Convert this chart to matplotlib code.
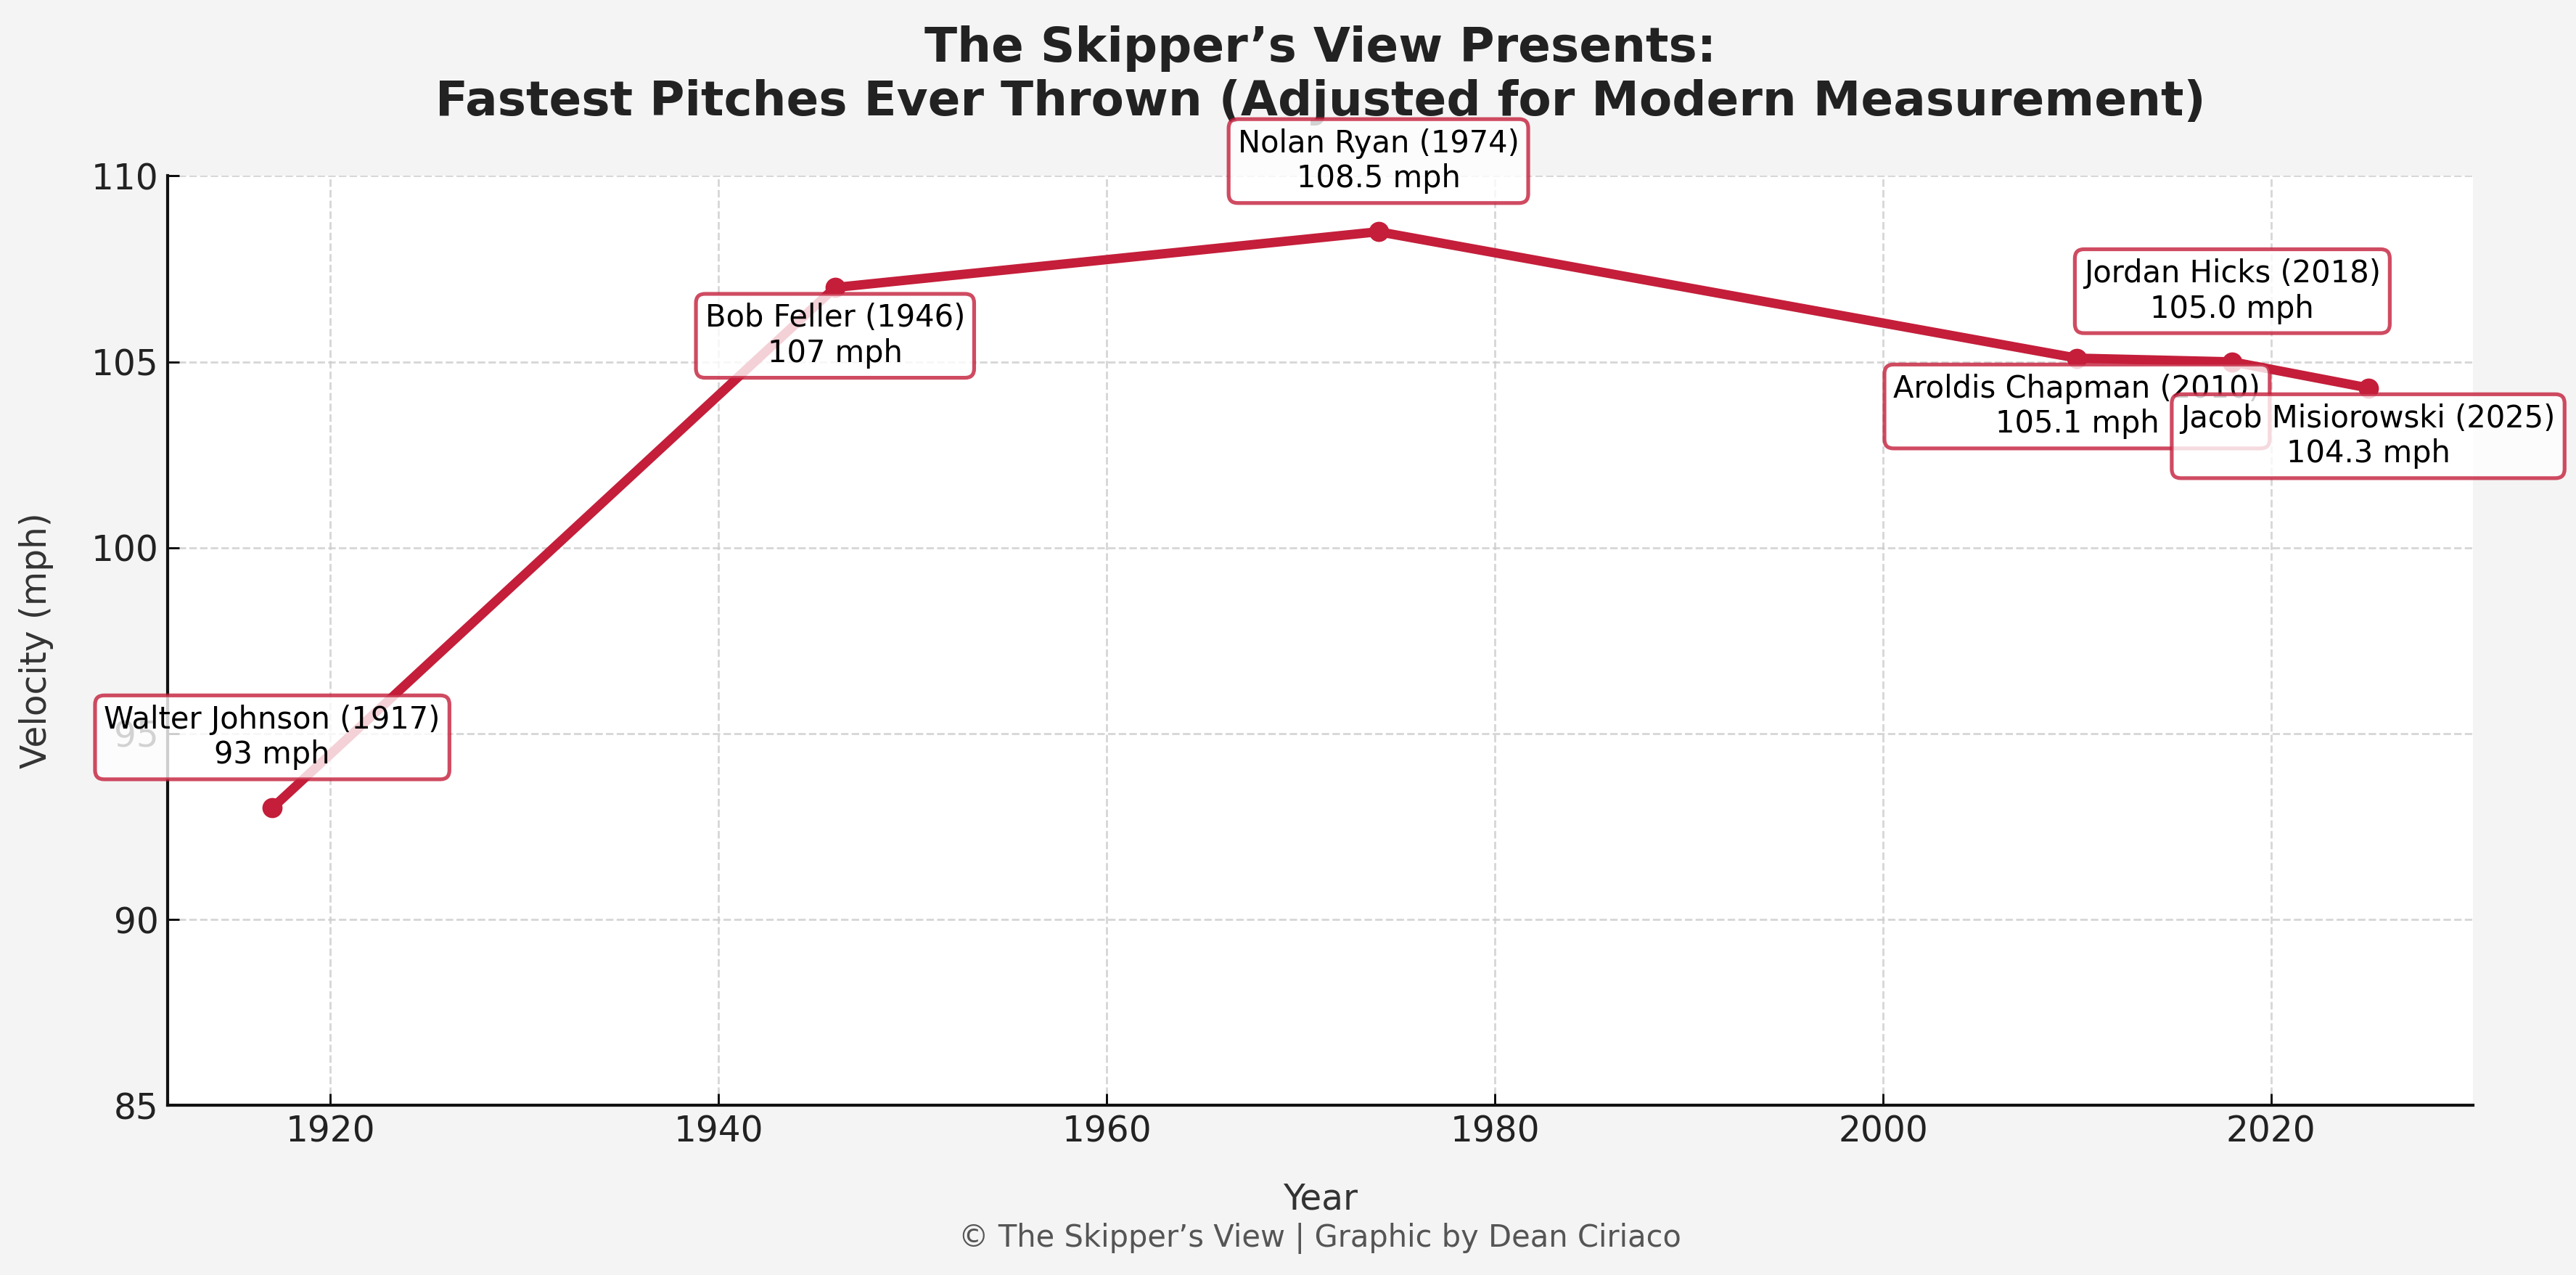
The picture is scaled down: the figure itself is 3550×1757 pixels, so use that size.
import numpy as np
import matplotlib.pyplot as plt

# pitch data
years = [1917, 1946, 1974, 2010, 2018, 2025]
speeds = [93, 107, 108.5, 105.1, 105.0, 104.3]
pitchers = ['Walter Johnson', 'Bob Feller', 'Nolan Ryan', 'Aroldis Chapman',
            'Jordan Hicks', 'Jacob Misiorowski']
speed_labels = ['93', '107', '108.5', '105.1', '105.0', '104.3']

# label placement (data units above/below each point)
label_shift = [1.9, -1.3, 1.9, -1.3, 1.9, -1.3]

red = '#C41E3A'

fig = plt.figure(figsize=(14.2, 7.028), dpi=250, facecolor='#f4f4f4')
ax = fig.add_axes([0.065, 0.133, 0.895, 0.729])
ax.set_facecolor('white')

ax.plot(years, speeds, color=red, lw=3.7, marker='o', markersize=7, zorder=3)

for i in range(len(years)):
    ax.text(years[i], speeds[i] + label_shift[i],
            '%s (%d)\n%s mph' % (pitchers[i], years[i], speed_labels[i]),
            ha='center', va='center', fontsize=12, color='black', zorder=5,
            bbox=dict(boxstyle='round,pad=0.3', facecolor='white', alpha=0.8,
                      edgecolor=red, linewidth=1.5))

ax.set_ylim(85, 110)
ax.set_yticks([85, 90, 95, 100, 105, 110])
ax.grid(True, linestyle='--', color='#cccccc', linewidth=0.8, alpha=0.8)
ax.set_axisbelow(True)

for s in ['top', 'right']:
    ax.spines[s].set_visible(False)
for s in ['left', 'bottom']:
    ax.spines[s].set_linewidth(1.2)
    ax.spines[s].set_color('#111111')

ax.tick_params(direction='in', length=4.5, labelsize=14, labelcolor='#222222')

ax.set_xlabel('Year', fontsize=14, color='#333333', labelpad=13)
ax.set_ylabel('Velocity (mph)', fontsize=14, color='#333333', labelpad=15)
ax.set_title('The Skipper\u2019s View Presents:\nFastest Pitches Ever Thrown (Adjusted for Modern Measurement)',
             fontsize=19, fontweight='bold', color='#222222', pad=24)

fig.text(0.5125, 0.029, '\u00a9 The Skipper\u2019s View | Graphic by Dean Ciriaco',
         ha='center', va='center', fontsize=12, color='#555555')

fig.savefig('out.png', dpi=250, facecolor=fig.get_facecolor())
